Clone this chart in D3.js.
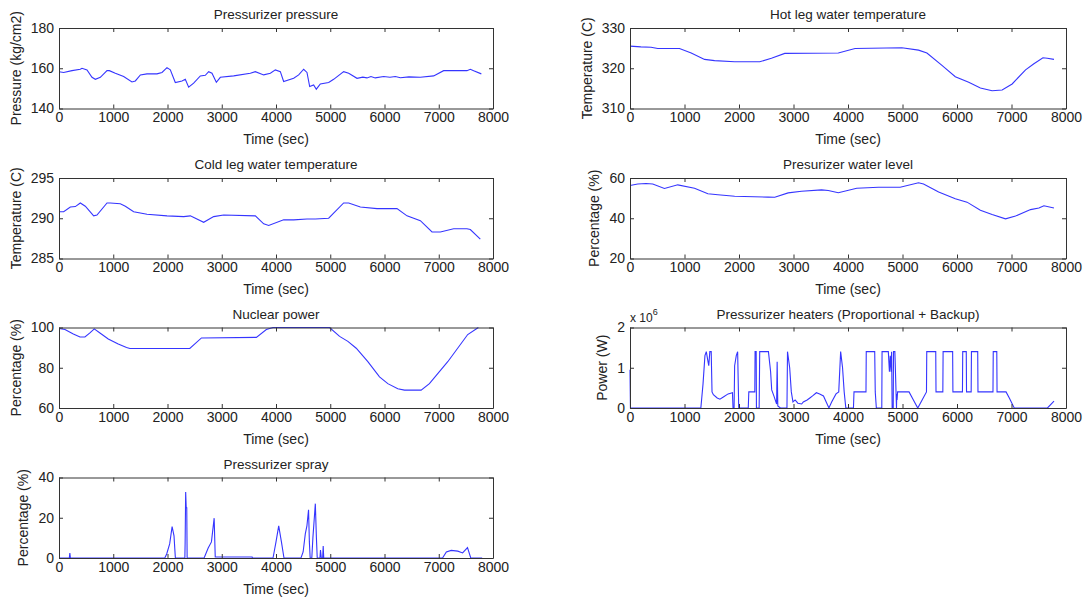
<!DOCTYPE html>
<html>
<head>
<meta charset="utf-8">
<script src="https://cdn.jsdelivr.net/npm/d3@7"></script>
<style>
  body { margin: 0; background: #fff; }
  text { font-family: "Liberation Sans", Arial, sans-serif; fill: #222; }
</style>
</head>
<body>
<div id="chart-area"></div>
<script>
// SVG size
let width = 1085,
    height = 599;

let xTicks = [0, 1000, 2000, 3000, 4000, 5000, 6000, 7000, 8000];

// [time (sec), value]
let pressure = [[0,158.3],[86,157.9],[240,158.8],[393,159.5],[424,160],[516,159.2],[608,155.5],[670,154.5],[762,155.5],[885,158.8],[928,158.8],[1038,157.5],[1192,155.9],[1345,153.2],[1407,153.7],[1500,156.7],[1622,157.2],[1806,157.2],[1899,157.9],[1990,160.3],[2052,159.2],[2144,152.9],[2267,153.7],[2328,154.5],[2390,150.6],[2482,152.6],[2605,156.2],[2697,156.5],[2759,158.3],[2820,157.5],[2900,153],[2974,155.5],[3220,156.2],[3527,157.5],[3619,158.3],[3773,156.7],[3896,157.5],[3988,159.2],[4080,158.3],[4141,153.4],[4326,155],[4418,156.7],[4510,159.5],[4571,157.9],[4621,150.9],[4694,151.7],[4743,149.6],[4817,152.2],[4971,152.9],[5063,154.5],[5247,158.3],[5340,157.5],[5493,155],[5600,155.6],[5677,155.2],[5750,155.9],[5830,155.2],[5985,155.9],[6100,155.5],[6200,155.9],[6292,155.3],[6450,155.7],[6660,155.5],[6906,156.2],[7090,158.8],[7520,158.8],[7582,159.5],[7644,158.7],[7785,157.2]];

let hotLeg = [[0,325.5],[200,325.3],[386,325.2],[509,324.9],[908,324.9],[1123,323.8],[1368,322.2],[1552,321.9],[1920,321.6],[2380,321.6],[2595,322.5],[2840,323.7],[3822,323.8],[4129,324.9],[4988,325.1],[5294,324.5],[5448,323.8],[5724,320.7],[5969,317.9],[6215,316.5],[6429,315.1],[6644,314.4],[6828,314.6],[7012,316.1],[7258,319.6],[7411,321.1],[7577,322.6],[7656,322.5],[7779,322.2]];

let coldLeg = [[0,290.8],[86,290.8],[209,291.4],[301,291.45],[393,291.9],[485,291.5],[639,290.3],[700,290.4],[885,291.9],[946,291.9],[1130,291.8],[1223,291.5],[1376,290.8],[1622,290.5],[1991,290.3],[2298,290.2],[2421,290.3],[2667,289.5],[2851,290.2],[3035,290.4],[3619,290.3],[3773,289.3],[3865,289.1],[4141,289.8],[4326,289.8],[4571,289.9],[4725,289.9],[4971,290],[5247,291.9],[5340,291.9],[5555,291.4],[5862,291.2],[6230,291.2],[6415,290.3],[6661,289.7],[6876,288.3],[7029,288.3],[7275,288.7],[7520,288.7],[7582,288.6],[7766,287.4]];

let waterLevel = [[0,56.3],[141,57],[294,57.3],[417,57],[632,54.8],[877,56.6],[1184,54.9],[1429,52.2],[1613,51.7],[1920,50.9],[2534,50.5],[2656,50.4],[2902,52.6],[3147,53.4],[3515,54.1],[3638,53.8],[3822,52.7],[4160,54.9],[4558,55.4],[4957,55.4],[5294,57.6],[5386,57],[5663,53.1],[5969,49.7],[6184,48],[6429,44],[6644,41.9],[6890,39.7],[7074,41.1],[7350,44.3],[7503,45.1],[7595,46.2],[7779,45.1]];

let nuclearPower = [[0,99.5],[110,99],[264,96.8],[387,95.3],[478,95.3],[570,97.3],[650,99.3],[755,97.3],[908,94.3],[1092,91.8],[1245,90.1],[1307,89.6],[2411,89.6],[2626,94.8],[3638,95.1],[3822,99],[3945,100],[4988,100],[5172,95.6],[5325,93.1],[5479,89.7],[5693,83],[5908,75.5],[6061,72.1],[6245,69.6],[6368,68.9],[6675,68.9],[6828,72.1],[7166,83],[7534,96.5],[7730,100]];

// heater power in W
let heaters = [[0,0.95e6],[8,0],[1300,0],[1340,0.6e6],[1375,1.3e6],[1400,1.4e6],[1425,1.2e6],[1445,1.05e6],[1465,1.4e6],[1490,1.4e6],[1505,0.4e6],[1530,0.33e6],[1600,0.25e6],[1650,0.22e6],[1720,0.28e6],[1800,0.35e6],[1880,0.38e6],[1890,0],[1910,0],[1920,1.05e6],[1950,1.3e6],[1975,1.4e6],[1995,0],[2170,0],[2180,0.4e6],[2290,0.4e6],[2295,1.4e6],[2315,1.4e6],[2320,0],[2370,0],[2380,1.4e6],[2540,1.4e6],[2580,0.9e6],[2600,0.45e6],[2640,0.3e6],[2690,0.1e6],[2700,1.15e6],[2712,0.05e6],[2760,0],[2880,0],[2890,1.4e6],[2930,1.0e6],[2960,0.4e6],[2990,0.15e6],[3030,0.2e6],[3080,0.12e6],[3150,0.1e6],[3180,0.15e6],[3250,0.2e6],[3300,0.25e6],[3350,0.3e6],[3420,0.38e6],[3480,0.35e6],[3550,0.3e6],[3600,0.15e6],[3650,0],[3700,0.15e6],[3780,0.35e6],[3830,0.4e6],[3865,1.4e6],[3900,1.0e6],[3930,0.4e6],[3960,0],[4100,0],[4110,0.4e6],[4330,0.4e6],[4335,1.4e6],[4490,1.4e6],[4500,0.4e6],[4520,0],[4620,0],[4625,1.4e6],[4740,1.4e6],[4760,0.9e6],[4775,1.3e6],[4790,0.9e6],[4800,1.4e6],[4810,0],[4830,0],[4835,1.4e6],[4860,1.4e6],[4890,0],[4895,0.35e6],[4900,0.2e6],[4910,0.4e6],[5120,0.4e6],[5200,0.2e6],[5280,0],[5360,0.2e6],[5440,0.4e6],[5445,1.4e6],[5610,1.4e6],[5615,0.4e6],[5740,0.4e6],[5745,1.4e6],[5920,1.4e6],[5925,0.4e6],[6100,0.4e6],[6105,1.4e6],[6170,1.4e6],[6175,0.4e6],[6260,0.4e6],[6265,1.4e6],[6380,1.4e6],[6385,0.4e6],[6660,0.4e6],[6665,1.4e6],[6730,1.4e6],[6735,0.4e6],[6900,0.4e6],[6960,0.25e6],[7050,0],[7660,0],[7780,0.17e6]];

let spray = [[0,0],[190,0],[200,2.4],[210,0],[1950,0],[1985,2],[2040,7],[2085,15.6],[2120,11],[2145,0],[2320,0],[2325,7.6],[2335,32.8],[2345,25],[2355,25],[2362,0],[2675,0],[2750,5],[2810,8],[2860,19.8],[2880,0.5],[3560,0.5],[3565,0],[3945,0],[4000,8],[4050,16],[4100,8],[4147,0],[4460,0],[4500,3],[4540,12],[4570,16],[4600,24],[4615,8],[4630,0],[4660,0],[4680,10],[4725,27],[4745,10],[4760,0],[4810,0],[4820,4],[4835,0],[4860,0],[4870,6],[4880,0],[7070,0],[7140,3],[7230,3.8],[7350,3.4],[7440,2.5],[7530,5.2],[7590,0],[7800,0]];

let panels = [
  { title: "Pressurizer pressure", ylabel: "Pressure (kg/cm2)", data: pressure, yDomain: [140, 180], yTicks: [140, 160, 180], col: 0, row: 0 },
  { title: "Hot leg water temperature", ylabel: "Temperature (C)", data: hotLeg, yDomain: [310, 330], yTicks: [310, 320, 330], col: 1, row: 0 },
  { title: "Cold leg water temperature", ylabel: "Temperature (C)", data: coldLeg, yDomain: [285, 295], yTicks: [285, 290, 295], col: 0, row: 1 },
  { title: "Presurizer water level", ylabel: "Percentage (%)", data: waterLevel, yDomain: [20, 60], yTicks: [20, 40, 60], col: 1, row: 1 },
  { title: "Nuclear power", ylabel: "Percentage (%)", data: nuclearPower, yDomain: [60, 100], yTicks: [60, 80, 100], col: 0, row: 2 },
  { title: "Pressurizer heaters (Proportional + Backup)", ylabel: "Power (W)", data: heaters, yDomain: [0, 2e6], yTicks: [0, 1e6, 2e6], col: 1, row: 2, scale: 1e6 },
  { title: "Pressurizer spray", ylabel: "Percentage (%)", data: spray, yDomain: [0, 40], yTicks: [0, 20, 40], col: 0, row: 3 }
];

let colLeft = [59, 630],
    colRight = [493, 1066],
    rowTop = [28, 178, 327.5, 477.5],
    plotH = 80.5;

let svg = d3.select("#chart-area")
  .append("svg")
  .attr("width", width)
  .attr("height", height);

panels.forEach(drawPanel);

function drawPanel(p) {
  let x0 = colLeft[p.col], x1 = colRight[p.col],
      y0 = rowTop[p.row], y1 = y0 + plotH;

  let g = svg.append("g");

  let xScale = d3.scaleLinear().domain([0, 8000]).range([x0, x1]);
  let yScale = d3.scaleLinear().domain(p.yDomain).range([y1, y0]);

  let line = d3.line()
    .x(d => xScale(d[0]))
    .y(d => yScale(d[1]));

  g.append("path")
    .datum(p.data)
    .attr("fill", "none")
    .attr("stroke", "#3535ff")
    .attr("stroke-width", 1.1)
    .attr("d", line);

  let fmtY = p.scale ? (d => d / p.scale) : (d => d);

  let xAxis = d3.axisBottom(xScale).tickValues(xTicks).tickFormat(d3.format("d")).tickSizeInner(-4).tickSizeOuter(0).tickPadding(4);
  let yAxis = d3.axisLeft(yScale).tickValues(p.yTicks).tickFormat(fmtY).tickSizeInner(-4).tickSizeOuter(0).tickPadding(5);
  let xTop = d3.axisTop(xScale).tickValues(xTicks).tickSizeInner(-4).tickSizeOuter(0).tickFormat("");
  let yRight = d3.axisRight(yScale).tickValues(p.yTicks).tickSizeInner(-4).tickSizeOuter(0).tickFormat("");

  let axes = [
    g.append("g").attr("transform", "translate(0," + y1 + ")").call(xAxis),
    g.append("g").attr("transform", "translate(" + x0 + ",0)").call(yAxis),
    g.append("g").attr("transform", "translate(0," + y0 + ")").call(xTop),
    g.append("g").attr("transform", "translate(" + x1 + ",0)").call(yRight)
  ];
  axes.forEach(a => {
    a.selectAll("path, line").attr("stroke", "#333");
    a.selectAll("text").style("font-size", "14px").attr("fill", "#222");
  });

  // ylabel sits left of the tick labels, like matlab
  let labelW = d3.max(p.yTicks, d => String(fmtY(d)).length) * 7.8;

  g.append("text")
    .attr("x", (x0 + x1) / 2)
    .attr("y", y0 - 9)
    .attr("text-anchor", "middle")
    .style("font-size", "13.5px")
    .text(p.title);

  g.append("text")
    .attr("x", (x0 + x1) / 2)
    .attr("y", y1 + 35.5)
    .attr("text-anchor", "middle")
    .style("font-size", "14px")
    .text("Time (sec)");

  g.append("text")
    .attr("transform", "rotate(-90)")
    .attr("x", -(y0 + y1) / 2)
    .attr("y", x0 - 5 - labelW - 15)
    .attr("dy", "0.35em")
    .attr("text-anchor", "middle")
    .style("font-size", "14px")
    .text(p.ylabel);

  if (p.scale) {
    let m = g.append("text")
      .attr("x", x0)
      .attr("y", y0 - 6)
      .style("font-size", "12px");
    m.append("tspan").text("x 10");
    m.append("tspan").attr("dy", -7).style("font-size", "9px").text("6");
  }
}
</script>
</body>
</html>
